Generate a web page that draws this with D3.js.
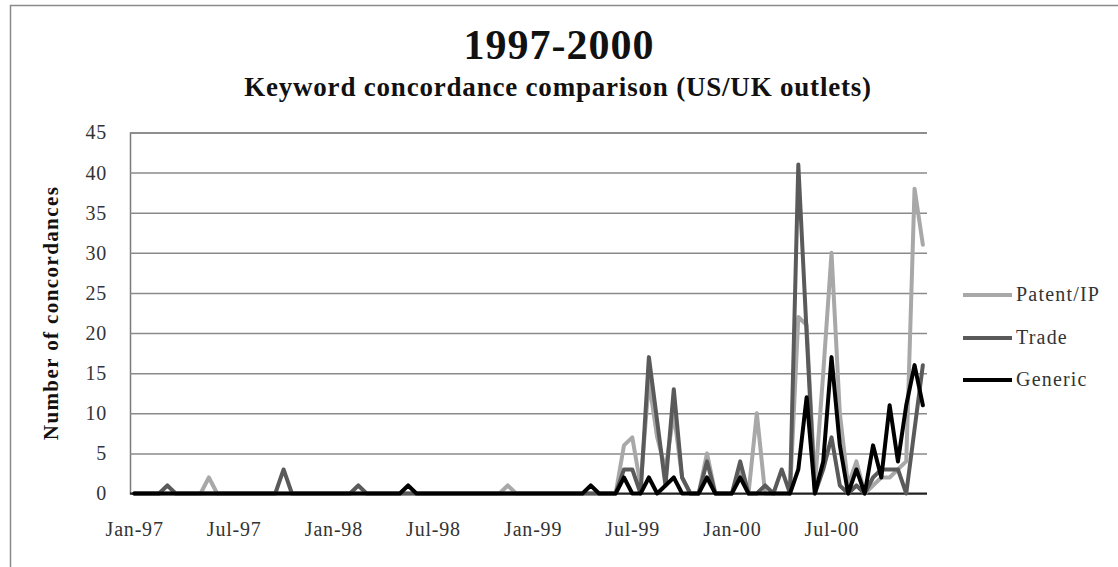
<!DOCTYPE html>
<html>
<head>
<meta charset="utf-8">
<script src="https://cdn.jsdelivr.net/npm/d3@7"></script>
<style>
  html, body { margin: 0; padding: 0; background: #fff; }
  svg { display: block; }
  text { font-family: "Liberation Serif", "DejaVu Serif", serif; }
</style>
</head>
<body>
<svg id="chart" width="1118" height="567"></svg>
<script>
// ---- Data (semi-monthly observations, Jan-97 .. Dec-00) ----
const years = ["97", "98", "99", "00"];
const monthNames = ["Jan","Feb","Mar","Apr","May","Jun","Jul","Aug","Sep","Oct","Nov","Dec"];
const categories = [];
years.forEach(yr => monthNames.forEach(m => { categories.push(m + "-" + yr + " a"); categories.push(m + "-" + yr + " b"); }));

const tickLabels = ["Jan-97","Jul-97","Jan-98","Jul-98","Jan-99","Jul-99","Jan-00","Jul-00"];
const yTicks = [0,5,10,15,20,25,30,35,40,45];
const seriesNames = ["Patent/IP","Trade","Generic"];

const patentIP = [
  0,0,0,0,0,0,0,0,0,2, 0,0,0,0,0,0,0,0,0,0,
  0,0,0,0,0,0,0,0,0,0, 0,0,0,0,0,0,0,0,0,0,
  0,0,0,0,0,1,0,0,0,0, 0,0,0,0,0,0,0,0,0,6,
  7,1,14,7,3,10,2,0,0,5, 0,0,0,3,0,10,0,0,0,0,
  22,21,1,15,30,10,1,4,0,1, 2,2,3,4,38,31
];
const trade = [
  0,0,0,0,1,0,0,0,0,0, 0,0,0,0,0,0,0,0,3,0,
  0,0,0,0,0,0,0,1,0,0, 0,0,0,0,0,0,0,0,0,0,
  0,0,0,0,0,0,0,0,0,0, 0,0,0,0,0,0,0,0,0,3,
  3,0,17,9,1,13,2,0,0,4, 0,0,0,4,0,0,1,0,3,0,
  41,20,0,3,7,1,0,1,0,2, 3,3,3,0,8,16
];
const generic = [
  0,0,0,0,0,0,0,0,0,0, 0,0,0,0,0,0,0,0,0,0,
  0,0,0,0,0,0,0,0,0,0, 0,0,0,1,0,0,0,0,0,0,
  0,0,0,0,0,0,0,0,0,0, 0,0,0,0,0,1,0,0,0,2,
  0,0,2,0,1,2,0,0,0,2, 0,0,0,2,0,0,0,0,0,0,
  3,12,0,4,17,6,0,3,0,6, 2,11,4,11,16,11
];

// ---- Layout ----
const svg = d3.select("#chart");
const plot = { left: 130, right: 927, top: 132.5, bottom: 493.5 };

// outer frame
svg.append("rect").attr("x", 10.5).attr("y", 5.5).attr("width", 1200).attr("height", 700)
  .attr("fill", "none").attr("stroke", "#8a8a8a").attr("stroke-width", 1.5);

const x = d3.scalePoint().domain(categories).range([plot.left, plot.right]).padding(0.5);
const y = d3.scaleLinear().domain([0, 45]).range([plot.bottom, plot.top]);

// Titles
svg.append("text").attr("x", 559).attr("y", 59).attr("text-anchor", "middle")
  .attr("font-size", 42).attr("letter-spacing", 1).attr("font-weight", "bold").attr("fill", "#111").text("1997-2000");
svg.append("text").attr("x", 558).attr("y", 96).attr("text-anchor", "middle")
  .attr("font-size", 27).attr("letter-spacing", 0.8).attr("font-weight", "bold").attr("fill", "#111")
  .text("Keyword concordance comparison (US/UK outlets)");

// Gridlines + y axis labels
const yAxis = d3.axisLeft(y).tickValues(yTicks).tickSize(-(plot.right - plot.left)).tickPadding(23);
const gy = svg.append("g").attr("transform", `translate(${plot.left},0)`).call(yAxis);
gy.select(".domain").attr("stroke", "#7a7a7a").attr("stroke-width", 1.5);
gy.selectAll(".tick line").attr("stroke", "#8a8a8a").attr("stroke-width", 1.5);
gy.selectAll(".tick text").attr("font-family", "Liberation Serif, serif").attr("font-size", 20)
  .attr("letter-spacing", 0.8).attr("fill", "#333");

// x axis
const tickCats = tickLabels.map((_, i) => categories[i * 12]);
const xAxis = d3.axisBottom(x).tickValues(tickCats).tickSize(0).tickPadding(28)
  .tickFormat((d, i) => tickLabels[i]);
const gx = svg.append("g").attr("transform", `translate(0,${plot.bottom})`).call(xAxis);
gx.select(".domain").attr("d", `M${plot.left},0H${plot.right}`).attr("stroke", "#222").attr("stroke-width", 2);
gx.selectAll(".tick text").attr("font-family", "Liberation Serif, serif").attr("font-size", 20)
  .attr("letter-spacing", 0.8).attr("fill", "#333");

// y axis title
svg.append("text").attr("transform", "translate(58,313) rotate(-90)").attr("text-anchor", "middle")
  .attr("font-size", 21).attr("letter-spacing", 1.4).attr("font-weight", "bold").attr("fill", "#111")
  .text("Number of  concordances");

// Lines
const colors = ["#a8a8a8", "#5a5a5a", "#000000"];
const allSeries = [patentIP, trade, generic];
const line = d3.line().x((d, i) => x(categories[i])).y(d => y(d));
allSeries.forEach((s, k) => {
  svg.append("path").datum(s).attr("d", line).attr("fill", "none")
    .attr("stroke", colors[k]).attr("stroke-width", 4).attr("stroke-linejoin", "round").attr("stroke-linecap", "round");
});

// Legend
const legY = [295, 338, 380];
seriesNames.forEach((n, k) => {
  svg.append("line").attr("x1", 963).attr("x2", 1012).attr("y1", legY[k]).attr("y2", legY[k])
    .attr("stroke", colors[k]).attr("stroke-width", 4);
  svg.append("text").attr("x", 1016).attr("y", legY[k] + 6).attr("font-size", 20)
    .attr("letter-spacing", 1.2).attr("fill", "#333").text(n);
});
</script>
</body>
</html>
